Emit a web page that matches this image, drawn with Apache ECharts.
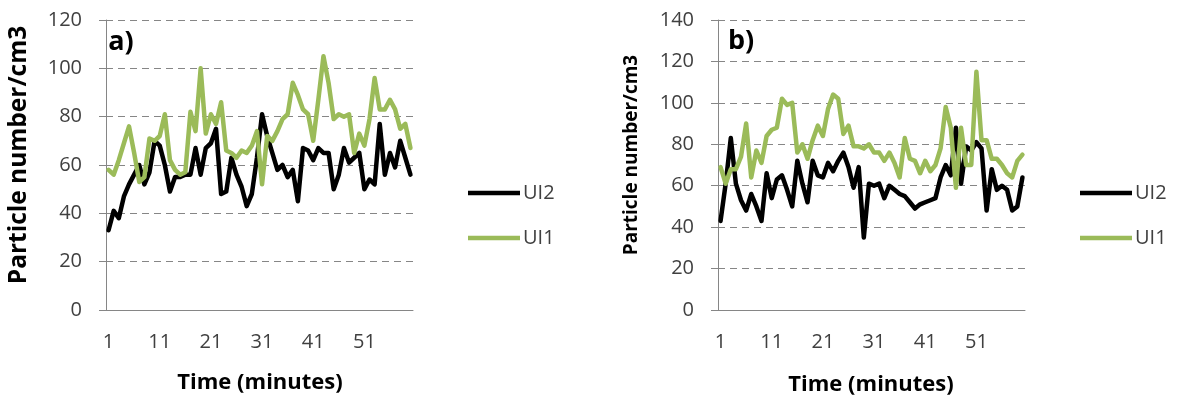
<!DOCTYPE html>
<html>
<head>
<meta charset="utf-8">
<title>Particle number</title>
<script src="https://cdn.jsdelivr.net/npm/echarts@6/dist/echarts.min.js"></script>
<style>
  html,body{margin:0;padding:0;background:#fff;}
  #chart{width:1179px;height:400px;}
</style>
</head>
<body>
<div id="chart"></div>
<script>
// minutes 1..60
var minutes = [];
for (var m = 1; m <= 60; m++) minutes.push(String(m));

// panel a)
var ui2_a = [33,41,38,47,52,56,60,52,57,70, 68,60,49,55,55,56,56,67,56,67,
             69,75,48,49,63,56,51,43,48,63, 81,72,65,58,60,55,58,45,67,66,
             62,67,65,65,50,56,67,61,63,65, 50,54,52,77,56,65,59,70,63,56];
var ui1_a = [58,56,62,69,76,65,53,55,71,70, 72,81,62,58,56,57,82,74,100,73,
             81,77,86,66,65,63,66,65,68,74, 52,72,70,74,79,81,94,89,83,81,
             70,87,105,94,79,81,80,81,65,73, 68,79,96,83,83,87,83,75,77,67];

// panel b)
var ui2_b = [43,61,83,61,53,48,56,50,43,66, 54,63,65,58,50,72,61,52,72,65,
             64,71,67,72,76,69,59,69,35,61, 60,61,54,60,58,56,55,52,49,51,
             52,53,54,64,70,65,88,61,79,77, 81,78,48,68,58,60,58,48,50,64];
var ui1_b = [69,61,68,68,74,90,64,77,71,84, 87,88,102,99,100,76,80,73,82,89,
             84,97,104,102,85,89,79,79,78,80, 76,76,72,76,71,64,83,73,72,66,
             72,67,70,78,98,88,59,88,70,70, 115,82,82,73,73,70,66,64,72,75];

var yMax_a = 120, yMax_b = 140, yStep = 20;

var gridCol = '#868686';
var txtCol = '#404040';
var fnt = '"Open Sans", "Liberation Sans", sans-serif';

function xAx(idx){
  return {
    type:'category', gridIndex:idx, data:minutes, boundaryGap:true,
    axisLine:{show:true, lineStyle:{color:gridCol, width:1}},
    axisTick:{show:false},
    axisLabel:{interval:9, color:txtCol, fontSize:20, fontFamily:fnt, margin:22}
  };
}
function yAx(idx, max){
  return {
    type:'value', gridIndex:idx, min:0, max:max, interval:yStep,
    axisLine:{show:true, lineStyle:{color:gridCol, width:1}},
    axisTick:{show:true, inside:false, length:7, lineStyle:{color:gridCol}},
    axisLabel:{color:txtCol, fontSize:20, fontFamily:fnt, margin:24},
    splitLine:{show:true, lineStyle:{color:gridCol, type:[7,5], width:1}}
  };
}
function line(name, idx, data, col){
  return {
    name:name, type:'line', xAxisIndex:idx, yAxisIndex:idx, data:data,
    symbol:'none', smooth:false, color:col,
    lineStyle:{color:col, width:4.5, join:'round', cap:'round'}
  };
}
function leg(left){
  return {
    left:left, top:176, orient:'vertical', itemGap:21,
    itemWidth:52, itemHeight:4.5, icon:'rect',
    data:['UI2','UI1'], selectedMode:false,
    textStyle:{color:txtCol, fontSize:20, fontFamily:fnt, lineHeight:24, padding:[0,0,0,-2]}
  };
}
function txt(x, y, s, size, rot){
  return {
    type:'text', x:x, y:y, rotation:rot || 0, silent:true,
    style:{text:s, fill:'#000', font:'bold ' + size + 'px ' + fnt, align:'center', verticalAlign:'middle'}
  };
}

var chart = echarts.init(document.getElementById('chart'));
chart.setOption({
  animation:false,
  backgroundColor:'#fff',
  grid:[
    {left:106, top:20, width:307, height:290},
    {left:718, top:20, width:307, height:290}
  ],
  xAxis:[xAx(0), xAx(1)],
  yAxis:[yAx(0, yMax_a), yAx(1, yMax_b)],
  legend:[leg(463), leg(1075)],
  series:[
    line('UI2', 0, ui2_a, '#000000'),
    line('UI1', 0, ui1_a, '#9BBB59'),
    line('UI2', 1, ui2_b, '#000000'),
    line('UI1', 1, ui1_b, '#9BBB59')
  ],
  graphic:[
    txt(121, 42, 'a)', 27),
    txt(741, 41, 'b)', 27),
    txt(19, 155, 'Particle number/cm3', 24.5, Math.PI/2),
    txt(632, 155, 'Particle number/cm3', 19, Math.PI/2),
    txt(260, 383, 'Time (minutes)', 22),
    txt(871, 385, 'Time (minutes)', 22)
  ]
});
</script>
</body>
</html>
